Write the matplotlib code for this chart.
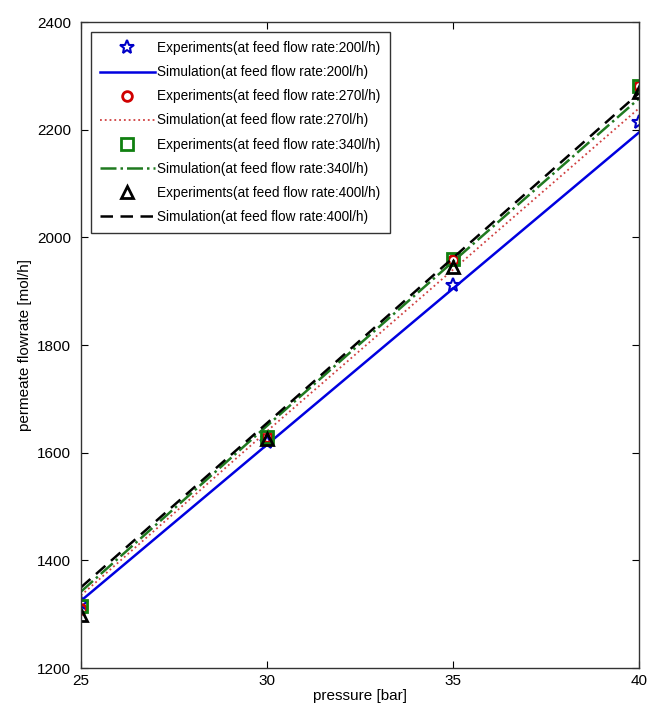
import numpy as np
import matplotlib.pyplot as plt

plt.rcParams['font.family'] = ['Liberation Sans', 'DejaVu Sans']

pressure = [25, 30, 35, 40]

# experiments
exp_200 = [1320, 1620, 1912, 2215]
exp_270 = [1310, 1630, 1958, 2282]
exp_340 = [1315, 1630, 1960, 2282]
exp_400 = [1298, 1625, 1945, 2270]

# simulation
sim_200 = [1325, 1615, 1905, 2195]
sim_270 = [1335, 1640, 1940, 2240]
sim_340 = [1342, 1650, 1955, 2258]
sim_400 = [1350, 1655, 1962, 2268]

fig = plt.figure(figsize=(6.48, 7.16), dpi=100)
ax = fig.add_axes([0.125, 0.067, 0.861, 0.902])

ax.plot(pressure, exp_200, linestyle='none', marker='*', color='#0000c8',
        markerfacecolor='none', markersize=10, mew=1.5, label='Experiments(at feed flow rate:200l/h)')
ax.plot(pressure, sim_200, '-', color='#0000e0', lw=1.8,
        label='Simulation(at feed flow rate:200l/h)')
ax.plot(pressure, exp_270, linestyle='none', marker='o', color='#d00000',
        markerfacecolor='none', markersize=7, mew=2, label='Experiments(at feed flow rate:270l/h)')
ax.plot(pressure, sim_270, ':', color='#d04040', lw=1.3,
        label='Simulation(at feed flow rate:270l/h)')
ax.plot(pressure, exp_340, linestyle='none', marker='s', color='#108010',
        markerfacecolor='none', markersize=8, mew=2, label='Experiments(at feed flow rate:340l/h)')
ax.plot(pressure, sim_340, '-.', color='#207a20', lw=1.8,
        label='Simulation(at feed flow rate:340l/h)')
ax.plot(pressure, exp_400, linestyle='none', marker='^', color='black',
        markerfacecolor='none', markersize=9, mew=2, label='Experiments(at feed flow rate:400l/h)')
ax.plot(pressure, sim_400, '--', color='black', lw=1.8, dashes=(5, 3),
        label='Simulation(at feed flow rate:400l/h)')

ax.set_xlim(25, 40)
ax.set_ylim(1200, 2400)
ax.set_xticks([25, 30, 35, 40])
ax.set_yticks([1200, 1400, 1600, 1800, 2000, 2200, 2400])
ax.tick_params(direction='in', labelsize=11, top=True, right=True, length=5)
ax.tick_params(axis='x', pad=4)
ax.tick_params(axis='y', pad=7)
ax.set_xlabel('pressure [bar]', fontsize=11, labelpad=1)
ax.set_ylabel('permeate flowrate [mol/h]', fontsize=11, labelpad=4)
for s in ax.spines.values():
    s.set_linewidth(1.0)
    s.set_color('#333333')

leg = ax.legend(loc='upper left', fontsize=9.8, numpoints=1, fancybox=False,
                edgecolor='black', handlelength=4.0, borderaxespad=0.7,
                labelspacing=0.74, handletextpad=0.2, borderpad=0.7)
leg.get_frame().set_linewidth(1.0)

fig.savefig('out.png', dpi=100)
